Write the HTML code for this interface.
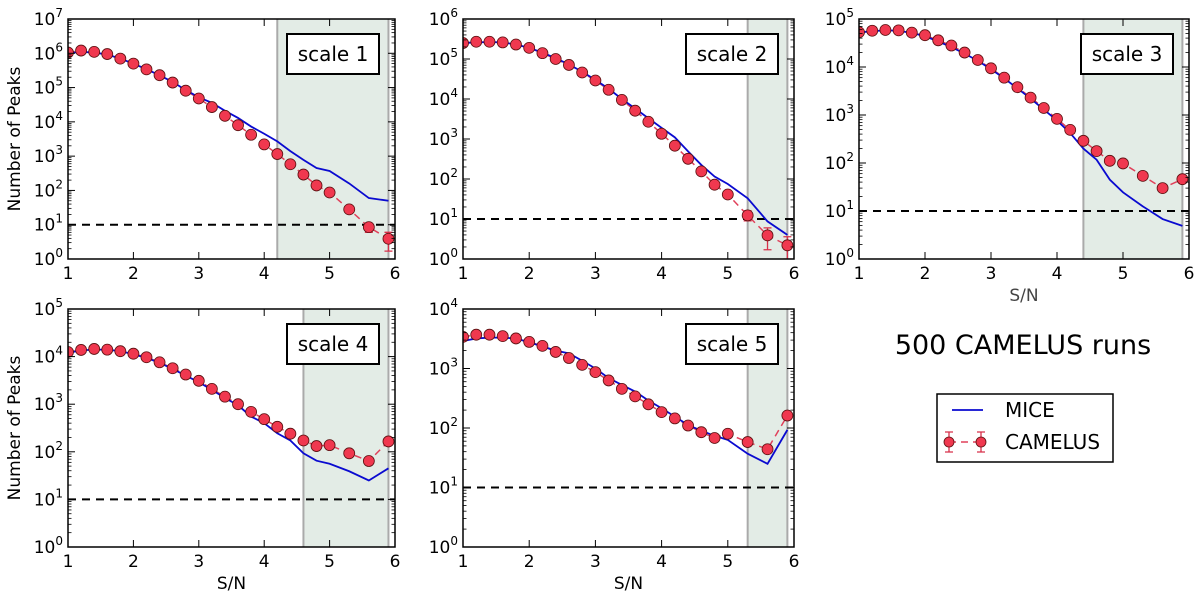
<!DOCTYPE html>
<html><head><meta charset="utf-8"><style>
body{margin:0;background:#fff;}
svg{display:block;font-family:"DejaVu Sans","Liberation Sans",sans-serif;}
</style></head><body>
<svg id="fig" width="1200" height="597" viewBox="0 0 1200 597"></svg>
<script>
const snX = [1,1.2,1.4,1.6,1.8,2,2.2,2.4,2.6,2.8,3,3.2,3.4,3.6,3.8,4,4.2,4.4,4.6,4.8,5,5.3,5.6,5.9];
const cam1 = [1.05e6,1.2e6,1.1e6,9.5e5,7e5,5e5,3.4e5,2.3e5,1.4e5,8.1e4,4.8e4,2.7e4,1.5e4,8e3,4.2e3,2.2e3,1150,580,290,140,87,28,8.5,3.9];
const mice1 = [1.0e6,1.1e6,1.05e6,9.2e5,7e5,5e5,3.4e5,2.3e5,1.45e5,8.5e4,5.2e4,3.6e4,2.1e4,1.3e4,7.3e3,4.5e3,2.7e3,1400,780,450,370,160,60,50];
const cam2 = [2.5e5,2.7e5,2.7e5,2.6e5,2.3e5,1.9e5,1.4e5,1e5,7.1e4,4.6e4,2.9e4,1.7e4,9.5e3,5.1e3,2.7e3,1350,680,320,155,72,41,12.3,3.9,2.2];
const mice2 = [2.5e5,2.6e5,2.65e5,2.6e5,2.3e5,1.9e5,1.45e5,1.05e5,7.3e4,4.8e4,3e4,1.8e4,1e4,5.8e3,3.3e3,1900,1100,490,225,115,75,33,8.7,4];
const cam3 = [5.3e4,5.7e4,5.9e4,5.8e4,5.2e4,4.6e4,3.6e4,2.8e4,2e4,1.4e4,9.4e3,6e3,3.8e3,2.3e3,1400,830,490,290,177,111,98,54,30,46];
const mice3 = [5.2e4,5.6e4,5.8e4,5.7e4,5.1e4,4.4e4,3.4e4,2.6e4,1.9e4,1.35e4,9e3,5.8e3,3.6e3,2.2e3,1300,770,420,200,117,45,24.5,12.5,6.8,4.9];
const cam4 = [1.25e4,1.38e4,1.45e4,1.4e4,1.3e4,1.15e4,9.7e3,7.6e3,5.7e3,4.2e3,3.1e3,2.1e3,1440,1000,690,485,335,240,173,132,138,93,64,165];
const mice4 = [1.2e4,1.35e4,1.4e4,1.4e4,1.3e4,1.12e4,9.4e3,7.4e3,5.5e3,4e3,2.9e3,2e3,1350,950,550,400,245,173,93,65,56,39,25,45];
const cam5 = [3.4e3,3.7e3,3.7e3,3.5e3,3.2e3,2.8e3,2.4e3,1.9e3,1.5e3,1.15e3,870,630,455,340,250,185,145,110,85,68,80,58,44,162];
const mice5 = [2.9e3,3.2e3,3.3e3,3.3e3,3.2e3,2.75e3,2.35e3,2e3,1.8e3,1.35e3,1e3,690,530,410,290,215,155,112,90,74,63,37,25,93];
const errLo1 = [0,0,0,0,0,0,0,0,0,0,0,0,0,0,0,0,0,0,0,0,0,0,6,1.7];
const errHi1 = [0,0,0,0,0,0,0,0,0,0,0,0,0,0,0,0,0,0,0,0,0,0,11,6];
const errLo2 = [0,0,0,0,0,0,0,0,0,0,0,0,0,0,0,0,0,0,0,0,0,9,1.7,1];
const errHi2 = [0,0,0,0,0,0,0,0,0,0,0,0,0,0,0,0,0,0,0,0,0,16,6,3.6];
const xTicks = [1,2,3,4,5,6];
const shadeStart = [4.2,5.3,4.4,4.6,5.3];
const shadeEnd = 5.9;
const threshold = 10;
const decadesArr = [7,6,5,5,4];

const NS="http://www.w3.org/2000/svg";
const svg=document.getElementById('fig');
function mk(tag,attrs,parent){const e=document.createElementNS(NS,tag);for(const k in attrs)e.setAttribute(k,attrs[k]);(parent||svg).appendChild(e);return e;}

const panels=[
 {x0:68,x1:395,y0:19,y1:259,cam:cam1,mice:mice1,lo:errLo1,hi:errHi1,ylab:true,xlab:false},
 {x0:463,x1:794,y0:19,y1:259,cam:cam2,mice:mice2,lo:errLo2,hi:errHi2,ylab:false,xlab:false},
 {x0:859,x1:1189,y0:19,y1:259,cam:cam3,mice:mice3,ylab:false,xlab:true},
 {x0:68,x1:395,y0:309,y1:547,cam:cam4,mice:mice4,ylab:true,xlab:true},
 {x0:463,x1:794,y0:309,y1:547,cam:cam5,mice:mice5,ylab:false,xlab:true}
];

panels.forEach((p,i)=>{
 const dec=decadesArr[i];
 const g=mk('g',{});
 
 
 const sx=v=>p.x0+(v-1)/5*(p.x1-p.x0);
 const sy=v=>p.y1-Math.log10(v)/dec*(p.y1-p.y0);
 const clip=mk('clipPath',{id:'c'+i},g);
 mk('rect',{x:p.x0,y:p.y0,width:p.x1-p.x0,height:p.y1-p.y0},clip);
 const shade=mk('rect',{x:sx(shadeStart[i]),y:p.y0,width:sx(shadeEnd)-sx(shadeStart[i]),height:p.y1-p.y0,fill:'#e3ece6'},g);
 
 
 [shadeStart[i],shadeEnd].forEach(v=>mk('line',{x1:sx(v),x2:sx(v),y1:p.y0,y2:p.y1,stroke:'#aaa','stroke-width':2},g));
 const th=mk('line',{x1:p.x0,x2:p.x1,y1:sy(threshold),y2:sy(threshold),stroke:'#000','stroke-width':2,'stroke-dasharray':'8,6'},g);
 
 
 const cg=mk('g',{'clip-path':'url(#c'+i+')'},g);
 const camPath=mk('polyline',{points:snX.map((x,j)=>sx(x)+','+sy(p.cam[j])).join(' '),fill:'none',stroke:'#e0405a','stroke-width':1.5,'stroke-dasharray':'7,5'},cg);
 
 
 const mp=mk('polyline',{points:snX.map((x,j)=>sx(x)+','+sy(p.mice[j])).join(' '),fill:'none',stroke:'#0a0ad0','stroke-width':1.8},cg);
 
 
 snX.forEach((x,j)=>{
  if(p.lo&&p.lo[j]){
   const e=mk('path',{d:`M${sx(x)},${sy(p.lo[j])}V${sy(p.hi[j])}M${sx(x)-4},${sy(p.lo[j])}h8M${sx(x)-4},${sy(p.hi[j])}h8`,stroke:'#d8304a','stroke-width':1.3,fill:'none'},cg);
   
   
  }
  const c=mk('circle',{cx:sx(x),cy:sy(p.cam[j]),r:5.5,fill:'#f0384f',stroke:'#5a1010','stroke-width':0.8},cg);
  
  
 });
 mk('rect',{x:p.x0,y:p.y0,width:p.x1-p.x0,height:p.y1-p.y0,fill:'none',stroke:'#000','stroke-width':1.5},g);
 xTicks.forEach(t=>{
  mk('line',{x1:sx(t),x2:sx(t),y1:p.y1,y2:p.y1-7,stroke:'#000'},g);
  mk('line',{x1:sx(t),x2:sx(t),y1:p.y0,y2:p.y0+7,stroke:'#000'},g);
  const tl=mk('text',{x:sx(t),y:p.y1+20,'text-anchor':'middle','font-size':17},g);
  tl.textContent=t;
  
  
 });
 for(let d=0;d<=dec;d++){
  const y=p.y1-d/dec*(p.y1-p.y0);
  mk('line',{x1:p.x0,x2:p.x0+7,y1:y,y2:y,stroke:'#000'},g);
  mk('line',{x1:p.x1,x2:p.x1-7,y1:y,y2:y,stroke:'#000'},g);
  const tl=mk('text',{x:p.x0-5,y:y+6,'text-anchor':'end','font-size':17},g);
  tl.innerHTML='10<tspan dy="-8" font-size="12">'+d+'</tspan>';
  
  
  if(d<dec){for(let m=2;m<10;m++){const ym=sy(m*Math.pow(10,d));
   mk('line',{x1:p.x0,x2:p.x0+3.5,y1:ym,y2:ym,stroke:'#000','stroke-width':0.8},g);
   mk('line',{x1:p.x1,x2:p.x1-3.5,y1:ym,y2:ym,stroke:'#000','stroke-width':0.8},g);}}
 }
 const bx=p.x1-108, by=p.y0+15;
 const box=mk('rect',{x:bx,y:by,width:92,height:40,fill:'#fff',stroke:'#000','stroke-width':2},g);
 
 
 const bt=mk('text',{x:bx+46,y:by+27,'text-anchor':'middle','font-size':20},g);
 bt.textContent='scale '+(i+1);
 
 
 if(p.ylab){const t=mk('text',{x:20,y:(p.y0+p.y1)/2,'text-anchor':'middle','font-size':17,transform:`rotate(-90 20 ${(p.y0+p.y1)/2})`},g);
  t.textContent='Number of Peaks';
  
  }
 if(p.xlab){const t=mk('text',{x:(p.x0+p.x1)/2,y:p.y1+42,'text-anchor':'middle','font-size':17,fill:i==2?'#444':'#000'},g);
  t.textContent='S/N';
  
  }
});

const title=mk('text',{x:1023,y:354,'text-anchor':'middle','font-size':27});
title.textContent='500 CAMELUS runs';


const lg=mk('g',{});


mk('rect',{x:937,y:394,width:176,height:68,fill:'#fff',stroke:'#000','stroke-width':1.5},lg);
mk('line',{x1:952,x2:983,y1:410,y2:410,stroke:'#0a0ad0','stroke-width':1.8},lg);
const t1=mk('text',{x:1005,y:417,'font-size':20},lg);t1.textContent='MICE';


mk('line',{x1:949,x2:981,y1:442,y2:442,stroke:'#e0405a','stroke-width':1.5,'stroke-dasharray':'7,5'},lg);
[949,981].forEach(x=>{
 mk('path',{d:`M${x},432V452M${x-4},432h8M${x-4},452h8`,stroke:'#d8304a','stroke-width':1.3},lg);
 mk('circle',{cx:x,cy:442,r:5,fill:'#f0384f',stroke:'#5a1010','stroke-width':0.8},lg);
});
const t2=mk('text',{x:1005,y:449,'font-size':20},lg);t2.textContent='CAMELUS';


</script>
</body></html>
